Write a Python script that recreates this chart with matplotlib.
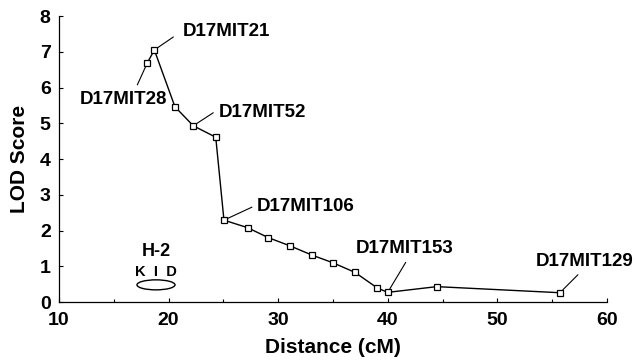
import numpy as np
import matplotlib.pyplot as plt
from matplotlib.patches import Ellipse
from matplotlib.ticker import MultipleLocator

plt.rcParams['font.family'] = ['Liberation Sans', 'DejaVu Sans']
plt.rcParams['font.weight'] = 'bold'

# marker positions along chromosome 17
distance = [18.06, 18.7, 20.58, 22.25, 24.3, 25.05, 27.2, 29.1, 31.08,
            33.1, 34.97, 37.0, 39.05, 39.99, 44.46, 55.7]
lod = [6.69, 7.05, 5.46, 4.93, 4.61, 2.29, 2.08, 1.80, 1.57,
       1.31, 1.10, 0.83, 0.39, 0.27, 0.43, 0.26]

# named markers: index into the arrays above
marker_names = ['D17MIT21', 'D17MIT28', 'D17MIT52', 'D17MIT106', 'D17MIT153', 'D17MIT129']
marker_index = [1, 0, 3, 5, 13, 15]

# label placement (offset pixels): leader end, text anchor, alignment
label_layout = {
    'D17MIT21': ((19, 13), (28, 18), 'left'),
    'D17MIT28': ((-10, -22), (20, -37), 'right'),
    'D17MIT52': ((20, 13), (25, 13), 'left'),
    'D17MIT106': ((28, 13), (33, 14), 'left'),
    'D17MIT153': ((18, 30), (17, 44), 'center'),
    'D17MIT129': ((18, 18), (25, 31), 'center'),
}

fig = plt.figure(figsize=(6.37, 3.62), dpi=100)
ax = fig.add_axes([0.0926, 0.1657, 0.8604, 0.7901])

ax.plot(distance, lod, color='black', lw=1.0, marker='s', ms=4,
        mfc='white', mec='black', mew=0.9)

for name, i in zip(marker_names, marker_index):
    line_end, text_pos, ha = label_layout[name]
    ax.annotate('', xy=(distance[i], lod[i]), xytext=line_end,
                textcoords='offset pixels',
                arrowprops=dict(arrowstyle='-', lw=0.8, color='black',
                                shrinkA=0, shrinkB=3))
    ax.annotate(name, xy=(distance[i], lod[i]), xytext=text_pos,
                textcoords='offset pixels', ha=ha, va='center',
                fontsize=13.5, fontweight='bold')

# H-2 complex sketch
ax.text(18.85, 1.42, 'H-2', ha='center', va='center', fontsize=13, fontweight='bold')
ax.text(18.85, 0.84, 'K  I  D', ha='center', va='center', fontsize=10.5, fontweight='bold')
ax.add_patch(Ellipse((18.85, 0.48), 3.47, 0.28, fill=False, lw=1.0, ec='black'))

ax.set_xlim(10, 60)
ax.set_ylim(0, 8)
ax.xaxis.set_major_locator(MultipleLocator(10))
ax.xaxis.set_minor_locator(MultipleLocator(5))
ax.yaxis.set_major_locator(MultipleLocator(1))
ax.tick_params(direction='in', length=3, width=0.8, labelsize=14)
ax.tick_params(axis='x', pad=7)
ax.tick_params(axis='y', pad=6)
ax.tick_params(which='minor', direction='in', length=2, width=0.8)
for lab in ax.get_xticklabels() + ax.get_yticklabels():
    lab.set_fontweight('bold')

ax.spines['top'].set_visible(False)
ax.spines['right'].set_visible(False)
ax.spines['left'].set_linewidth(0.9)
ax.spines['bottom'].set_linewidth(0.9)

ax.set_xlabel('Distance (cM)', fontsize=15, fontweight='bold', labelpad=7)
ax.set_ylabel('LOD Score', fontsize=15, fontweight='bold')
ax.yaxis.set_label_coords(-0.055, 0.5)

fig.savefig('out.png', dpi=100)
